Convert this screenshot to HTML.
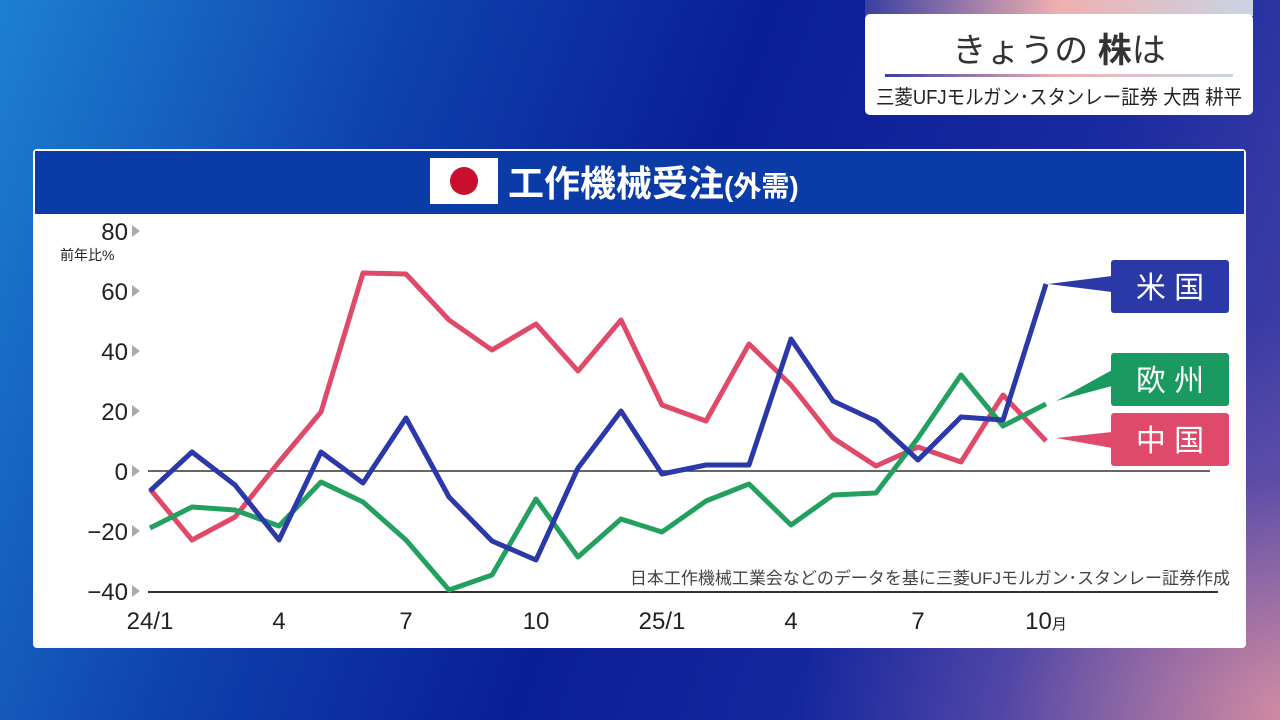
<!DOCTYPE html>
<html><head><meta charset="utf-8"><style>
body{margin:0;width:1280px;height:720px;overflow:hidden;font-family:"Liberation Sans","Noto Sans CJK JP",sans-serif;}
#bg{position:absolute;left:0;top:0;width:1280px;height:720px;background:radial-gradient(ellipse 500px 400px at 1300px 720px,rgba(230,150,160,0.9),rgba(120,90,170,0.5) 60%,rgba(0,0,0,0) 100%),linear-gradient(110deg,#1d80d2 0%,#0e40ac 28%,#0a1e96 50%,#1a2aa0 75%,#5048a8 100%);}
</style></head><body><div id="bg"></div>
<svg width="1280" height="720" style="position:absolute;left:0;top:0" font-family="Liberation Sans, Noto Sans CJK JP, sans-serif">
<defs><linearGradient id="g1" x1="0" x2="1"><stop offset="0" stop-color="#3a3fa0"/><stop offset="0.5" stop-color="#f0b0b0"/><stop offset="1" stop-color="#c8d4e4"/></linearGradient></defs>
<rect x="865" y="0" width="388" height="16" fill="url(#g1)"/>
<rect x="865" y="14" width="388" height="101" rx="5" fill="#fff"/>
<text x="1059" y="62" font-size="34" text-anchor="middle" fill="#333">きょうの <tspan font-weight="bold">株</tspan>は</text>
<rect x="885" y="74" width="348" height="3" fill="url(#g1)"/>
<text x="876" y="104" font-size="20" fill="#222" textLength="366" lengthAdjust="spacingAndGlyphs">三菱UFJモルガン･スタンレー証券 大西 耕平</text>
<rect x="33" y="149" width="1213" height="499" rx="4" fill="#fff"/>
<rect x="35" y="151" width="1209" height="63" fill="#0b3ba6"/>
<rect x="430" y="158" width="68" height="46" fill="#fff"/>
<circle cx="464" cy="181" r="14" fill="#c8102e"/>
<text x="508" y="196" font-size="36" font-weight="bold" fill="#fff">工作機械受注<tspan font-size="28">(外需)</tspan></text>
<g font-size="24" fill="#222" text-anchor="end">
<text x="128" y="240">80</text><text x="128" y="300">60</text><text x="128" y="360">40</text><text x="128" y="420">20</text><text x="128" y="480">0</text><text x="128" y="540">−20</text><text x="128" y="600">−40</text></g>
<g fill="#aaa"><path d="M132,225l8,6l-8,6z"/><path d="M132,285l8,6l-8,6z"/><path d="M132,345l8,6l-8,6z"/><path d="M132,405l8,6l-8,6z"/><path d="M132,465l8,6l-8,6z"/><path d="M132,525l8,6l-8,6z"/><path d="M132,585l8,6l-8,6z"/></g>
<text x="60" y="260" font-size="14" fill="#222">前年比%</text>
<line x1="148" y1="471" x2="1210" y2="471" stroke="#333" stroke-width="1.5"/>
<line x1="148" y1="592" x2="1218" y2="592" stroke="#333" stroke-width="2"/>
<g font-size="24" fill="#222" text-anchor="middle"><text x="150" y="629">24/1</text><text x="279" y="629">4</text><text x="406" y="629">7</text><text x="536" y="629">10</text><text x="662" y="629">25/1</text><text x="791" y="629">4</text><text x="918" y="629">7</text><text x="1046" y="629">10<tspan font-size="15">月</tspan></text></g>
<text x="1230" y="584" font-size="17" fill="#444" text-anchor="end">日本工作機械工業会などのデータを基に三菱UFJモルガン･スタンレー証券作成</text>
<g fill="none" stroke-width="5" stroke-linejoin="round">
<polyline stroke="#e04a6a" points="150,489 192,540 235,517 279,462 321,412 363,273 406,274 449,320 492,350 536,324 578,371 621,320 662,405 706,421 749,344 791,385 833,438 876,466 918,447 961,462 1003,395 1046,441"/>
<polyline stroke="#22a060" points="150,528 192,507 235,510 279,526 321,482 363,502 406,540 449,590 492,575 536,499 578,557 621,519 662,532 706,501 749,484 791,525 833,495 876,493 918,438 961,375 1003,426 1046,404"/>
<polyline stroke="#2a38a8" points="150,491 192,452 235,485 279,540 321,452 363,483 406,418 449,497 492,541 536,560 578,468 621,411 662,474 706,465 749,465 791,339 833,401 876,421 918,460 961,417 1003,420 1046,284"/>
</g>
<path d="M1048,284L1112,276L1112,292z" fill="#2a38a8"/>
<rect x="1111" y="260" width="118" height="53" rx="3" fill="#2a38a8"/><text x="1170" y="298" font-size="30" fill="#fff" text-anchor="middle">米 国</text>
<path d="M1056,401L1112,370L1112,386z" fill="#1a9a60"/>
<rect x="1111" y="353" width="118" height="53" rx="3" fill="#1a9a60"/><text x="1170" y="391" font-size="30" fill="#fff" text-anchor="middle">欧 州</text>
<path d="M1056,438L1112,432L1112,448z" fill="#e04a6a"/>
<rect x="1111" y="413" width="118" height="53" rx="3" fill="#e04a6a"/><text x="1170" y="451" font-size="30" fill="#fff" text-anchor="middle">中 国</text>
</svg></body></html>
